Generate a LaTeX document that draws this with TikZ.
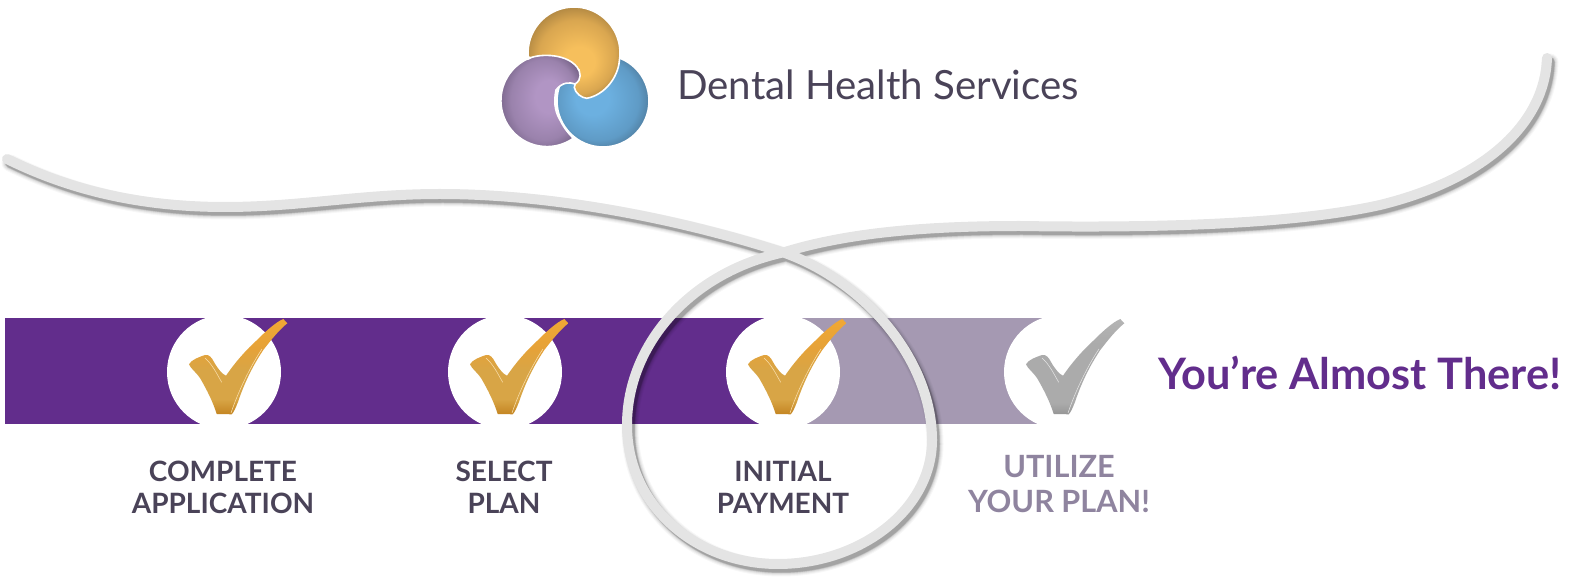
\documentclass[tikz,border=0pt]{standalone}
\usepackage{fontspec}
\setmainfont{Lato}
\usepackage{xcolor}
\usetikzlibrary{positioning}
\definecolor{barDark}{HTML}{622D8C}
\definecolor{barLight}{HTML}{A599B2}
\definecolor{inkDark}{HTML}{4A4358}
\definecolor{inkLight}{HTML}{8F849F}
\definecolor{ribbon}{HTML}{E4E4E4}
\definecolor{goldA}{HTML}{F6BF5C}
\definecolor{goldB}{HTML}{D9A650}
\definecolor{goldC}{HTML}{8A6A35}
\definecolor{plumA}{HTML}{B195C4}
\definecolor{plumB}{HTML}{9A82AC}
\definecolor{plumC}{HTML}{5F4F70}
\definecolor{skyA}{HTML}{6CB0E0}
\definecolor{skyB}{HTML}{5F9BC6}
\definecolor{skyC}{HTML}{3F5F78}
\definecolor{tickTop}{HTML}{F0A834}
\definecolor{tickHigh}{HTML}{E6A238}
\definecolor{tickMid}{HTML}{D8A546}
\definecolor{tickLow}{HTML}{C48522}
\definecolor{greyTop}{HTML}{B4B4B4}
\definecolor{greyMid}{HTML}{ABABAB}
\definecolor{greyLow}{HTML}{969696}
\pgfdeclareradialshading{goldball}{\pgfpoint{4bp}{-7bp}}{color(0bp)=(goldA);color(8bp)=(goldA);color(20bp)=(goldB);color(32bp)=(goldC)}
\pgfdeclareradialshading{plumball}{\pgfpoint{7bp}{4bp}}{color(0bp)=(plumA);color(8bp)=(plumA);color(20bp)=(plumB);color(31bp)=(plumC)}
\pgfdeclareradialshading{skyball}{\pgfpoint{-8bp}{2bp}}{color(0bp)=(skyA);color(9bp)=(skyA);color(22bp)=(skyB);color(33bp)=(skyC)}
\pgfdeclareverticalshading{goldtick}{100bp}{color(0bp)=(tickLow);color(25bp)=(tickLow);color(33bp)=(tickMid);color(48bp)=(tickMid);color(60bp)=(tickHigh);color(75bp)=(tickTop);color(100bp)=(tickTop)}
\pgfdeclareverticalshading{greytick}{100bp}{color(0bp)=(greyLow);color(25bp)=(greyLow);color(31bp)=(greyMid);color(62bp)=(greyMid);color(75bp)=(greyTop);color(100bp)=(greyTop)}
\newcommand{\ribbonpath}{(7,159) .. controls (70,190) and (140,207) .. (225,207)
  .. controls (300,207) and (360,194) .. (440,194)
  .. controls (560,194) and (690,222) .. (785,253)
  .. controls (865,282) and (932,360) .. (932,440)
  .. controls (932,510) and (860,564) .. (778,564)
  .. controls (695,564) and (627,505) .. (627,425)
  .. controls (627,345) and (690,272) .. (785,252)
  .. controls (850,232) and (930,226) .. (1020,226)
  .. controls (1150,228) and (1290,225) .. (1380,205)
  .. controls (1490,178) and (1545,120) .. (1547,58)}
\newcommand{\tickmark}[3]{%
\path[shift={#1}, shading=#2]
  (-35,-7.7) .. controls (-33,-12) and (-25,-15) .. (-19,-17)
  .. controls (-15,-18) and (-12,-14) .. (-10,-10)
  .. controls (-6,-3) and (-2,2) .. (2,3.7)
  .. controls (10,-8) and (20,-20) .. (32,-31)
  .. controls (42,-41) and (52,-50) .. (59.3,-53)
  -- (63.3,-48.7)
  .. controls (55,-42) and (47,-32) .. (39.3,-22)
  .. controls (28,-5) and (20,12) .. (14,30)
  .. controls (12,35) and (10,40) .. (7.7,42.3)
  -- (-7.3,42)
  .. controls (-11,30) and (-17,18) .. (-24,6)
  .. controls (-28,0) and (-33,-3) .. (-35,-7.7) -- cycle;
\draw[shift={#1}, #3, line width=0.4pt] (-19,-14) .. controls (-12,-8) and (-7,2) .. (-2.3,10.3);
\draw[shift={#1}, #3, line width=0.4pt] (38,-23) .. controls (26,-5) and (14,20) .. (7,41);
}
\begin{document}
\begin{tikzpicture}[x=0.75pt, y=-0.75pt,
  disc/.style={circle, fill=white, minimum size=85.5pt, inner sep=0pt},
  steplabel/.style={font=\fontsize{21}{24}\selectfont\bfseries, align=center, inner sep=0pt, text=inkDark},
  ghost/.style={black, line cap=round, line join=round}]
\useasboundingbox (0,0) rectangle (1570,580);
\fill[barDark] (5,318) rectangle (783,424);
\fill[barLight] (783,318) rectangle (1061,424);
\node[disc] (check1) at (224,372) {};
\node[disc] (check2) at (505,372) {};
\node[disc] (check3) at (783,372) {};
\node[disc] (check4) at (1061,372) {};
\tickmark{(224,372)}{goldtick}{goldA!50!white}
\tickmark{(505,372)}{goldtick}{goldA!50!white}
\tickmark{(783,372)}{goldtick}{goldA!50!white}
\tickmark{(1061,372)}{greytick}{gray!20}
\path[shading=skyball, draw=white, line width=1.2pt] (603,101) circle (46);
\path[shading=goldball, draw=white, line width=1.2pt] (528.2,57) arc[start angle=175, end angle=370, radius=46]
  .. controls (618,77) and (605,95) .. (586.7,98.3)
  .. controls (581.7,98) and (575,93) .. (574.3,87.3)
  -- (579,70) -- cycle;
\path[shading=plumball, draw=white, line width=1.2pt] (527.6,59.3)
  .. controls (535,54) and (565,52) .. (577,67)
  .. controls (581,72) and (582,80) .. (575,84)
  .. controls (570,82) and (562,82) .. (556,90)
  .. controls (554,100) and (554,110) .. (560,120)
  .. controls (564,128) and (568,133) .. (573.3,138.3)
  arc[start angle=55, end angle=245, radius=46];
\foreach \w/\o in {17/0.03, 15/0.04, 13/0.06, 11/0.08, 10/0.1, 9/0.12}
  \draw[ghost, shift={(3,4)}, line width=\w*0.75pt, opacity=\o] \ribbonpath;
\draw[ribbon, line width=7.5pt, line cap=round, line join=round] \ribbonpath;
\node[anchor=west, inner sep=0pt, text=inkDark, font=\fontsize{30.2}{32}\selectfont] (brand) at (677,85) {Dental Health Services};
\node[anchor=west, inner sep=0pt, text=barDark, font=\fontsize{32.5}{34}\selectfont\bfseries] (cheer) at (1158,373) {You’re Almost There!};
\node[steplabel] (apply) at (223,487) {COMPLETE\\APPLICATION};
\node[steplabel] (select) at (504,487) {SELECT\\PLAN};
\node[steplabel] (pay) at (783,487) {INITIAL\\PAYMENT};
\node[steplabel, text=inkLight, font=\fontsize{23}{26.5}\selectfont\bfseries] (use) at (1059,484) {UTILIZE\\YOUR PLAN!};
\end{tikzpicture}
\end{document}
